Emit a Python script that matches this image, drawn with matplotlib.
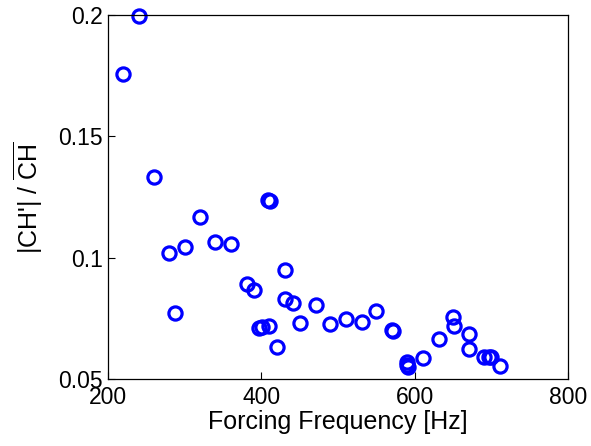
import numpy as np
import matplotlib.pyplot as plt

plt.rcParams['font.family'] = ['Liberation Sans', 'DejaVu Sans']
plt.rcParams['mathtext.fontset'] = 'custom'
plt.rcParams['mathtext.rm'] = 'Liberation Sans'
plt.rcParams['mathtext.it'] = 'Liberation Sans:italic'

# forcing frequency [Hz]
freq = [220, 240, 260, 280, 288, 300, 320, 340, 360, 381, 390, 397, 401,
        409, 411, 410, 421, 431, 431, 441, 450, 471, 490, 511, 531, 550,
        570, 572, 590, 592, 590, 611, 632, 650, 651, 671, 671, 691, 697,
        700, 711]
# normalised fluctuation amplitude
amp = [0.1757, 0.1995, 0.1331, 0.1018, 0.0773, 0.1045, 0.1169, 0.1066,
       0.1056, 0.0894, 0.0867, 0.0711, 0.0713, 0.1240, 0.1232, 0.0720,
       0.0633, 0.0949, 0.0830, 0.0812, 0.0732, 0.0804, 0.0727, 0.0746,
       0.0736, 0.0781, 0.0704, 0.0700, 0.0571, 0.0551, 0.0560, 0.0585,
       0.0665, 0.0757, 0.0718, 0.0684, 0.0624, 0.0592, 0.0590, 0.0592,
       0.0554]

xticks = [200, 400, 600, 800]
yticks = [0.05, 0.1, 0.15, 0.2]

fig = plt.figure(figsize=(5.91, 4.46), dpi=100)
ax = fig.add_axes([0.1827, 0.150, 0.7783, 0.816])

ax.plot(freq, amp, 'o', ls='none', mfc='none', mec='#0000ff',
        ms=9.5, mew=2.3, clip_on=False)

ax.set_xlim(200, 800)
ax.set_ylim(0.05, 0.2)
ax.set_xticks(xticks)
ax.set_yticks(yticks)
ax.set_xticklabels([str(t) for t in xticks])
ax.set_yticklabels(['0.05', '0.1', '0.15', '0.2'])
ax.tick_params(direction='in', length=5, width=0.8, labelsize=16.5,
               top=False, right=False)
ax.tick_params(axis='x', pad=5)
ax.tick_params(axis='y', pad=3.5)
for s in ax.spines.values():
    s.set_linewidth(0.9)

ax.set_xlabel('Forcing Frequency [Hz]', fontsize=18, labelpad=1)
ax.set_ylabel(r"|CH'| / $\overline{\mathrm{CH}}$", fontsize=18, labelpad=10)

fig.savefig('out.png', dpi=100)
